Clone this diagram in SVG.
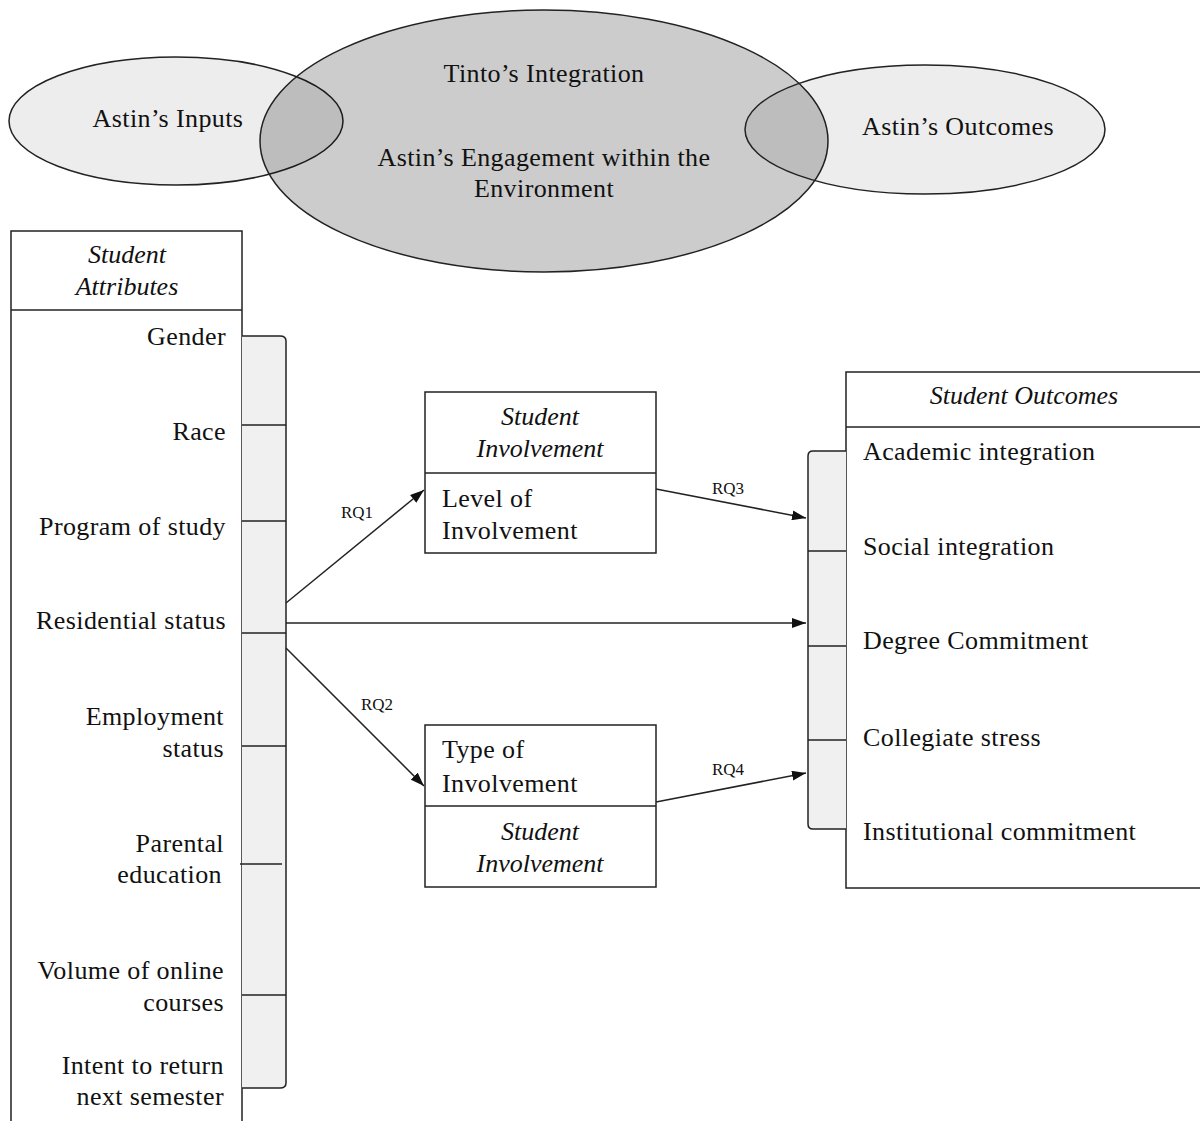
<svg xmlns="http://www.w3.org/2000/svg" width="1200" height="1121" viewBox="0 0 1200 1121">
<style>
text{font-family:"Liberation Serif","Times New Roman",serif;fill:#111;}
.t{font-size:26px;letter-spacing:0.4px;}
.i{font-size:26px;font-style:italic;}
.rq{font-size:17px;}
.box{fill:#fff;stroke:#222;stroke-width:1.5;}
.ln{stroke:#222;stroke-width:1.5;fill:none;}
.strip{fill:#f0f0f0;stroke:#222;stroke-width:1.5;}
.ell{stroke:#222;stroke-width:1.5;}
.c{text-anchor:middle;}
.r{text-anchor:end;}
</style>
<defs>
<marker id="ah" viewBox="0 0 14 10" refX="14" refY="5" markerWidth="14" markerHeight="10" markerUnits="userSpaceOnUse" orient="auto">
<path d="M0,0 L14,5 L0,10 z" fill="#111"/>
</marker>
</defs>
<rect width="1200" height="1121" fill="#fff"/>
<g id="ellipses">
<g id="astin-inputs">
<ellipse class="ell" cx="176" cy="121" rx="167" ry="64" fill="#000" fill-opacity="0.07"/>
</g>
<g id="tinto-integration">
<ellipse class="ell" cx="544" cy="141" rx="284" ry="131" fill="#000" fill-opacity="0.2"/>
</g>
<g id="astin-outcomes">
<ellipse class="ell" cx="925" cy="129.5" rx="180" ry="64.5" fill="#000" fill-opacity="0.07"/>
</g>
<text class="t c" x="168" y="127">Astin’s Inputs</text>
<text class="t c" x="544" y="82">Tinto’s Integration</text>
<text class="t c" x="544" y="166">Astin’s Engagement within the</text>
<text class="t c" x="544" y="197">Environment</text>
<text class="t c" x="958" y="135">Astin’s Outcomes</text>
</g>
<g id="student-attributes">
<rect class="box" x="11" y="231" width="231" height="910"/>
<line class="ln" x1="11" y1="310" x2="242" y2="310"/>
<text class="i c" x="127" y="263">Student</text>
<text class="i c" x="127" y="295">Attributes</text>
<path class="strip" d="M242,336 L280,336 Q286,336 286,341 L286,1083 Q286,1088 280,1088 L242,1088"/>
<line class="ln" x1="242" y1="425" x2="286" y2="425"/>
<line class="ln" x1="242" y1="521" x2="286" y2="521"/>
<line class="ln" x1="242" y1="633" x2="286" y2="633"/>
<line class="ln" x1="242" y1="746" x2="286" y2="746"/>
<line class="ln" x1="240" y1="864" x2="282" y2="864"/>
<line class="ln" x1="242" y1="995" x2="286" y2="995"/>
<text class="t r" x="226" y="345">Gender</text>
<text class="t r" x="226" y="440">Race</text>
<text class="t r" x="226" y="535">Program of study</text>
<text class="t r" x="226" y="629">Residential status</text>
<text class="t r" x="224" y="725">Employment</text>
<text class="t r" x="224" y="757">status</text>
<text class="t r" x="224" y="852">Parental</text>
<text class="t r" x="222" y="883">education</text>
<text class="t r" x="224" y="979">Volume of online</text>
<text class="t r" x="224" y="1011">courses</text>
<text class="t r" x="224" y="1074">Intent to return</text>
<text class="t r" x="224" y="1105">next semester</text>
</g>
<g id="level-of-involvement">
<rect class="box" x="425" y="392" width="231" height="161"/>
<line class="ln" x1="425" y1="473" x2="656" y2="473"/>
<text class="i c" x="540" y="425">Student</text>
<text class="i c" x="540" y="457">Involvement</text>
<text class="t" x="442" y="507">Level of</text>
<text class="t" x="442" y="539">Involvement</text>
</g>
<g id="type-of-involvement">
<rect class="box" x="425" y="725" width="231" height="162"/>
<line class="ln" x1="425" y1="806" x2="656" y2="806"/>
<text class="t" x="442" y="758">Type of</text>
<text class="t" x="442" y="792">Involvement</text>
<text class="i c" x="540" y="840">Student</text>
<text class="i c" x="540" y="872">Involvement</text>
</g>
<g id="student-outcomes">
<rect class="box" x="846" y="372" width="380" height="516"/>
<line class="ln" x1="846" y1="427" x2="1226" y2="427"/>
<text class="i c" x="1024" y="404">Student Outcomes</text>
<path class="strip" d="M846,451 L813,451 Q808,451 808,456 L808,824 Q808,829 813,829 L846,829"/>
<line class="ln" x1="808" y1="551" x2="846" y2="551"/>
<line class="ln" x1="808" y1="646" x2="846" y2="646"/>
<line class="ln" x1="808" y1="740" x2="846" y2="740"/>
<text class="t" x="863" y="460">Academic integration</text>
<text class="t" x="863" y="555">Social integration</text>
<text class="t" x="863" y="649">Degree Commitment</text>
<text class="t" x="863" y="746">Collegiate stress</text>
<text class="t" x="863" y="840">Institutional commitment</text>
</g>
<g id="connectors">
<line class="ln" x1="286" y1="603" x2="424" y2="490" marker-end="url(#ah)"/>
<line class="ln" x1="656" y1="489" x2="806" y2="518" marker-end="url(#ah)"/>
<line class="ln" x1="286" y1="623" x2="806" y2="623" marker-end="url(#ah)"/>
<line class="ln" x1="286" y1="648" x2="424" y2="786" marker-end="url(#ah)"/>
<line class="ln" x1="656" y1="802" x2="806" y2="773" marker-end="url(#ah)"/>
<text class="rq c" x="357" y="518">RQ1</text>
<text class="rq c" x="728" y="494">RQ3</text>
<text class="rq c" x="377" y="710">RQ2</text>
<text class="rq c" x="728" y="775">RQ4</text>
</g>
</svg>
